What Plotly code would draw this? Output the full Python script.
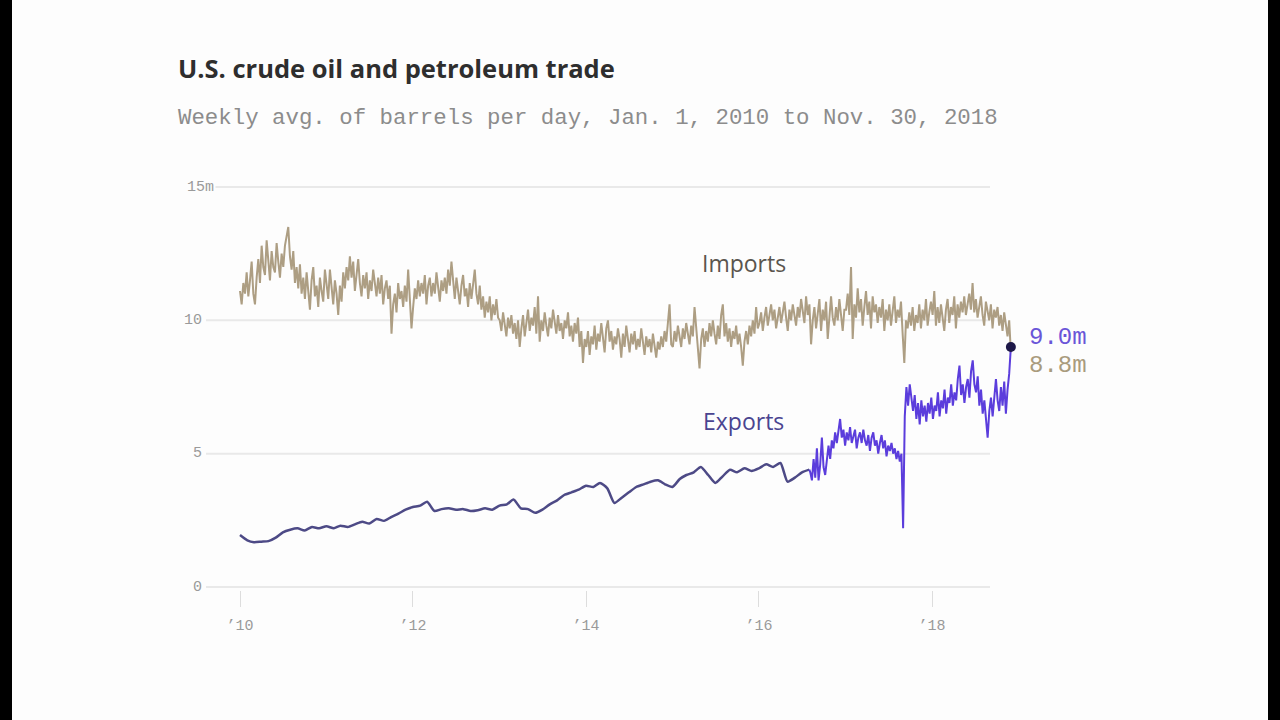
import pandas as pd
import plotly.graph_objects as go

# ---------------- data (million barrels per day) ----------------
imports_2010 = [11.1, 10.6, 11.4, 11.0, 11.8, 10.9, 11.5, 12.2, 11.0, 10.6,
                11.6, 12.3, 11.4, 12.8, 12.0, 11.7, 13.0, 12.1, 11.5, 12.6,
                12.0, 11.8, 12.9, 12.2, 11.6, 12.5, 12.0, 12.8, 13.1, 13.5,
                12.4, 11.9, 12.6, 11.4, 12.0, 11.2, 12.1, 11.0, 11.6, 10.8,
                11.8, 11.2, 10.4, 11.5, 12.0, 10.9, 11.3, 10.5, 11.6, 11.1,
                10.7, 11.9]
imports_2011 = [11.4, 10.8, 11.9, 11.2, 10.6, 11.5, 11.0, 10.2, 11.3, 10.7,
                11.8, 11.2, 12.0, 11.5, 12.4, 11.6, 12.2, 11.1, 11.8, 12.3,
                11.4, 10.9, 11.7, 11.2, 11.8, 10.8, 11.5, 11.1, 11.9, 11.3,
                10.9, 11.6, 11.0, 11.7, 10.6, 11.2, 11.5, 10.8, 11.3, 9.5,
                10.6, 11.0, 10.3, 11.4, 10.8, 11.1, 10.5, 11.3, 10.7, 11.9,
                11.0, 9.7]
imports_2012 = [10.5, 11.2, 10.8, 11.5, 10.9, 11.4, 11.0, 11.7, 10.6, 11.3,
                11.6, 10.9, 11.4, 11.0, 11.8, 11.2, 10.7, 11.5, 11.1, 11.6,
                11.0, 11.9, 11.3, 12.2, 11.4, 10.8, 11.6, 11.1, 10.6, 11.3,
                11.7, 10.9, 11.2, 10.5, 11.4, 10.8, 11.5, 11.9, 11.0, 10.6,
                11.3, 10.4, 10.9, 10.1, 10.7, 10.3, 10.9, 10.0, 10.6, 10.2,
                10.8, 10.1]
imports_2013 = [10.0, 9.6, 10.3, 9.8, 9.4, 10.1, 9.7, 10.2, 9.5, 9.9,
                9.3, 10.0, 9.0, 9.7, 10.2, 9.4, 9.9, 10.4, 9.6, 10.1,
                9.8, 10.5, 9.5, 10.9, 9.2, 10.0, 9.6, 10.3, 9.8, 9.4,
                10.1, 9.7, 10.4, 9.9, 9.5, 10.2, 9.6, 9.9, 9.3, 10.0,
                9.7, 10.3, 9.4, 9.8, 9.2, 9.9, 9.5, 10.1, 9.0, 9.6,
                8.4, 9.3]
imports_2014 = [9.0, 9.6, 8.7, 9.4, 9.1, 9.8, 8.9, 9.5, 9.2, 9.9,
                9.3, 8.8, 9.7, 10.0, 9.2, 9.6, 8.9, 9.4, 9.1, 9.7,
                9.3, 8.6, 9.5, 9.0, 9.8, 9.2, 8.8, 9.5, 9.1, 9.6,
                8.9, 9.3, 9.0, 9.7, 9.2, 8.7, 9.4, 9.0, 9.3, 8.8,
                9.5, 9.1, 8.6, 9.2, 8.9, 9.4, 9.0, 9.6, 9.2, 9.9,
                10.6, 9.1]
imports_2015 = [9.0, 9.6, 9.2, 9.8, 9.4, 9.0, 9.7, 9.3, 9.9, 9.5,
                9.1, 9.8, 9.4, 10.5, 9.6, 9.1, 8.2, 9.3, 9.7, 9.0,
                9.6, 9.2, 9.9, 9.4, 10.0, 9.5, 9.1, 9.8, 9.3, 10.2,
                10.6, 9.4, 9.9, 9.2, 9.7, 9.0, 9.6, 9.3, 9.8, 9.1,
                9.5, 9.0, 8.3, 9.2, 9.6, 9.1, 9.8, 9.4, 10.0, 9.5,
                10.5, 9.7]
imports_2016 = [9.9, 10.3, 9.6, 10.1, 10.5, 9.8, 10.2, 10.6, 10.0, 10.4,
                9.7, 10.2, 10.5, 9.9, 10.3, 10.7, 10.1, 9.6, 10.4, 10.0,
                10.6, 10.2, 9.8, 10.5, 10.1, 10.8, 10.3, 9.9, 10.9, 10.2,
                10.6, 9.1, 10.0, 10.5, 9.7, 10.3, 10.8, 9.6, 10.4, 10.0,
                10.7, 9.3, 10.2, 10.9, 10.1, 9.8, 10.5, 10.0, 10.8, 10.2,
                9.6, 10.4]
imports_2017 = [10.4, 11.0, 10.2, 12.0, 9.3, 10.6, 10.1, 11.2, 10.3, 10.8,
                9.8, 10.5, 11.1, 10.2, 10.7, 9.7, 10.9, 10.3, 10.6, 9.9,
                10.5, 10.1, 10.8, 9.6, 10.4, 10.0, 10.6, 9.8, 10.3, 10.9,
                9.9, 10.4, 10.1, 10.7, 9.5, 8.4, 10.0, 9.7, 10.3, 9.8,
                10.5, 9.6, 10.2, 9.9, 10.6, 9.7, 10.4, 10.0, 10.8, 9.8,
                10.3, 10.7]
imports_2018 = [10.2, 11.1, 9.8, 10.5, 9.9, 10.6, 10.1, 9.6, 10.4, 10.8,
                9.9, 10.5, 10.2, 10.9, 9.7, 10.6, 10.1, 10.7, 10.3, 10.9,
                10.2, 10.6, 11.0, 10.4, 11.4, 10.3, 10.8, 10.1, 10.6, 10.9,
                10.2, 9.8, 10.7, 10.3, 10.0, 10.6, 9.7, 10.4, 10.1, 10.5,
                9.8, 10.2, 9.6, 10.3, 9.9, 9.4, 10.0, 8.8]

# exports: monthly estimates Jan 2010 - Aug 2016, then weekly to Nov 30, 2018
exports_monthly = [1.95, 1.75, 1.68, 1.70, 1.72, 1.85, 2.05, 2.15, 2.20, 2.12,
                   2.25, 2.20, 2.28, 2.20, 2.30, 2.25, 2.35, 2.45, 2.38, 2.55,
                   2.48, 2.62, 2.75, 2.90, 3.00, 3.05, 3.20, 2.85, 2.92, 2.95,
                   2.90, 2.92, 2.85, 2.88, 2.95, 2.90, 3.05, 3.10, 3.28, 2.95,
                   2.92, 2.78, 2.90, 3.10, 3.25, 3.45, 3.55, 3.65, 3.80, 3.75,
                   3.90, 3.70, 3.15, 3.35, 3.55, 3.75, 3.85, 3.95, 4.00, 3.85,
                   3.75, 4.05, 4.20, 4.30, 4.50, 4.20, 3.90, 4.15, 4.40, 4.30,
                   4.45, 4.35, 4.45, 4.60, 4.50, 4.65, 3.95, 4.10, 4.30, 4.40]
exports_weekly = [4.3, 4.0, 4.8, 4.1, 5.2, 4.0, 4.6, 5.6, 4.5, 4.2,
                  4.9, 5.3, 4.8, 5.5, 5.2, 5.8, 5.4, 5.9, 6.3,
                  5.6, 5.9, 5.3, 5.8, 5.5, 6.0, 5.4, 5.7, 5.9, 5.2,
                  5.6, 5.8, 5.4, 5.9, 5.5, 5.3, 5.7, 5.1, 5.6, 5.8,
                  5.3, 5.5, 5.0, 5.4, 5.7, 5.2, 5.5, 4.9, 5.3, 5.1,
                  5.4, 5.0,
                  5.2, 4.8, 5.1, 4.7, 5.0, 2.2,
                  6.4, 7.5, 6.8, 7.6, 7.0,
                  6.6, 7.2, 6.3, 6.9, 6.1, 7.0, 6.4, 6.8, 6.2, 6.9,
                  6.5, 7.1, 6.3, 6.8, 6.6, 7.3, 6.4, 7.0, 6.7, 7.4,
                  6.5, 7.1, 6.9, 7.6, 6.8, 7.3, 7.0, 7.8, 8.3,
                  7.2, 7.6, 6.9, 7.5, 7.8, 7.1, 8.1, 8.5,
                  7.6, 7.3, 7.9, 6.8, 7.4, 6.5, 7.0, 6.2, 5.6, 6.6, 7.1, 6.4,
                  7.2, 7.8, 7.0, 6.6, 7.5, 6.8, 7.7, 6.5, 7.4, 8.0, 9.0]

y_tick_vals = [0, 5, 10, 15]
y_tick_text = ["0", "5", "10", "15m"]
x_tick_vals = ["2010-01-01", "2012-01-01", "2014-01-01", "2016-01-01", "2018-01-01"]
x_tick_text = ["\u201910", "\u201912", "\u201914", "\u201916", "\u201918"]

title_text = "U.S. crude oil and petroleum trade"
subtitle_text = "Weekly avg. of barrels per day, Jan. 1, 2010 to Nov. 30, 2018"

# ---------------- build series ----------------
imports = (imports_2010 + imports_2011 + imports_2012 + imports_2013 + imports_2014
           + imports_2015 + imports_2016 + imports_2017 + imports_2018)
imp_dates = pd.date_range("2010-01-01", "2018-11-30", periods=len(imports))
exm_dates = pd.date_range("2010-01-01", periods=len(exports_monthly), freq="MS")
exw_dates = pd.date_range(end="2018-11-30", periods=len(exports_weekly), freq="7D")
exw_x = [exm_dates[-1]] + list(exw_dates)
exw_y = [exports_monthly[-1]] + exports_weekly

# ---------------- layout geometry ----------------
W, H = 1280, 720
PL, PR, PT, PB = 203, 1020, 170, 590
ORIGIN = pd.Timestamp("2010-01-01")
PX_PER_DAY = 86.5 / 365.25
ORIGIN_PX = 240
Y0_PX, PX_PER_UNIT = 587, 400 / 15


def px_date(px):
    return ORIGIN + pd.Timedelta(days=(px - ORIGIN_PX) / PX_PER_DAY)


def pxx(px):
    return (px - PL) / (PR - PL)


def pxy(py):
    return (PB - py) / (PB - PT)


y_lo = (Y0_PX - PB) / PX_PER_UNIT
y_hi = (Y0_PX - PT) / PX_PER_UNIT

IMP_COL = "#ad9e83"
EXP_COL_OLD = "#4d4a86"
EXP_COL_NEW = "#5b3ddc"
SANS = "Open Sans"
MONO = "Liberation Mono"

fig = go.Figure()
fig.add_trace(go.Scatter(x=imp_dates, y=imports, mode="lines",
                         line=dict(color=IMP_COL, width=2), hoverinfo="skip"))
fig.add_trace(go.Scatter(x=exm_dates, y=exports_monthly, mode="lines",
                         line=dict(color=EXP_COL_OLD, width=2.5, shape="spline", smoothing=0.6),
                         hoverinfo="skip"))
fig.add_trace(go.Scatter(x=exw_x, y=exw_y, mode="lines",
                         line=dict(color=EXP_COL_NEW, width=2), hoverinfo="skip"))
fig.add_trace(go.Scatter(x=[exw_dates[-1]], y=[exports_weekly[-1]], mode="markers",
                         marker=dict(color="#1d1848", size=10), hoverinfo="skip",
                         cliponaxis=False))

shapes = []
# gridlines
for v in y_tick_vals:
    shapes.append(dict(type="line", xref="x", yref="y", x0=px_date(206), x1=px_date(990),
                       y0=v, y1=v, line=dict(color="#e9e9e9", width=2), layer="below"))
# black side borders
shapes.append(dict(type="rect", xref="paper", yref="paper", x0=pxx(0), x1=pxx(12),
                   y0=pxy(H), y1=pxy(0), fillcolor="black", line=dict(width=0)))
shapes.append(dict(type="rect", xref="paper", yref="paper", x0=pxx(1268), x1=pxx(W),
                   y0=pxy(H), y1=pxy(0), fillcolor="black", line=dict(width=0)))

annotations = []
for v, t in zip(y_tick_vals, y_tick_text):
    annotations.append(dict(x=pxx(216 if t.endswith("m") else 204), xref="paper", y=v, yref="y",
                            text=t, showarrow=False, xanchor="right", yanchor="middle",
                            bgcolor="#fdfdfd",
                            font=dict(family=MONO, size=15, color="#9a9a9a")))
annotations += [
    dict(x=pxx(176), y=pxy(68), xref="paper", yref="paper", text=title_text, showarrow=False,
         xanchor="left", yanchor="middle",
         font=dict(family=SANS, size=25.5, color="#2e2e2e", weight="bold")),
    dict(x=pxx(176), y=pxy(118), xref="paper", yref="paper", text=subtitle_text, showarrow=False,
         xanchor="left", yanchor="middle",
         font=dict(family=MONO, size=22.4, color="#8c8c8c")),
    dict(x=px_date(744), y=(Y0_PX - 263) / PX_PER_UNIT, xref="x", yref="y", text="Imports",
         showarrow=False, font=dict(family=SANS, size=23, color="#5a554e")),
    dict(x=px_date(743), y=(Y0_PX - 421) / PX_PER_UNIT, xref="x", yref="y", text="Exports",
         showarrow=False, font=dict(family=SANS, size=23, color="#4a4490")),
    dict(x=exw_dates[-1], y=exports_weekly[-1], xref="x", yref="y",
         text=f"{exports_weekly[-1]:.1f}m", showarrow=False, xanchor="left", yanchor="middle",
         xshift=16, yshift=10, font=dict(family=MONO, size=24, color="#6a55d8")),
    dict(x=imp_dates[-1], y=imports[-1], xref="x", yref="y",
         text=f"{imports[-1]:.1f}m", showarrow=False, xanchor="left", yanchor="middle",
         xshift=16, yshift=-13, font=dict(family=MONO, size=24, color="#a99b7d")),
]

fig.update_layout(
    width=W, height=H,
    margin=dict(l=PL, r=W - PR, t=PT, b=H - PB, pad=0),
    paper_bgcolor="#fdfdfd", plot_bgcolor="rgba(0,0,0,0)",
    showlegend=False,
    shapes=shapes, annotations=annotations,
    xaxis=dict(range=[px_date(PL), px_date(PR)], showgrid=False, zeroline=False,
               showline=False, tickmode="array", tickvals=x_tick_vals, ticktext=x_tick_text,
               ticks="outside", ticklen=16, tickwidth=1, tickcolor="#dddddd",
               ticklabelstandoff=5,
               tickfont=dict(family=MONO, size=15, color="#9a9a9a")),
    yaxis=dict(range=[y_lo, y_hi], showgrid=False, zeroline=False, showline=False,
               showticklabels=False, ticks=""),
)

fig.write_html("out.html")
